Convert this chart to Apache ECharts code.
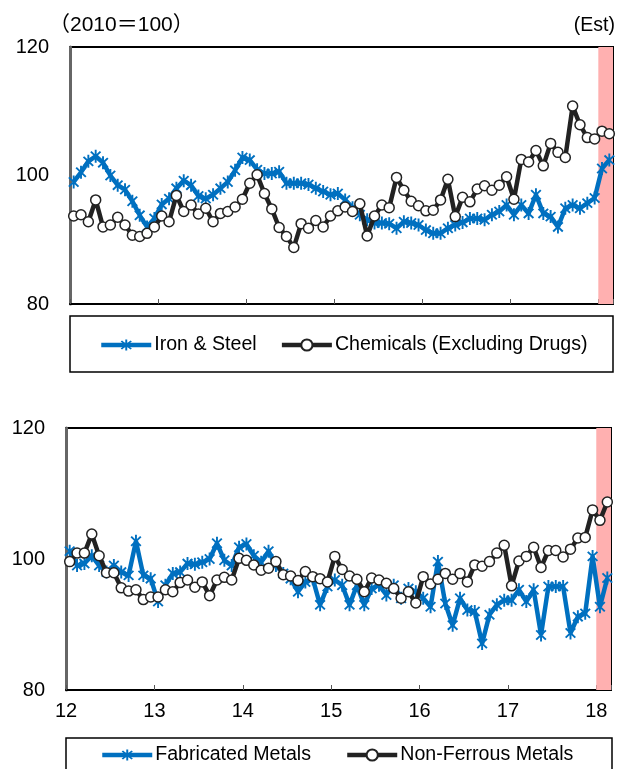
<!DOCTYPE html>
<html><head><meta charset="utf-8">
<script src="https://cdn.jsdelivr.net/npm/echarts@6/dist/echarts.min.js"></script>
<style>html,body{margin:0;padding:0;background:#fff}#c{width:622px;height:769px}</style>
</head><body><div id="c"></div>
<script>
// Monthly index (2010=100), Jan 2012 .. Feb 2018
const yearLabels = ['12','13','14','15','16','17','18'];
const totalMonths = 74;
const estStart = 72;   // Jan 2018 (estimate period)
const estEnd = 74;

const ironSteel = [
  99.0,100.5,102.2,103.0,102.0,100.0,98.5,97.8,96.0,93.8,92.0,93.3,
  95.5,96.4,98.0,99.2,98.5,96.8,96.4,97.0,98.0,99.0,100.8,102.8,
  102.4,100.9,100.3,100.3,100.6,98.8,98.8,98.8,98.6,98.0,97.5,97.0,
  97.2,96.2,95.0,93.9,93.1,92.6,92.6,92.5,91.8,92.8,92.6,92.3,
  91.5,91.0,91.0,91.8,92.3,92.7,93.3,93.3,93.1,93.9,94.4,95.4,
  93.9,95.4,94.1,97.0,94.1,93.6,92.0,94.9,95.4,94.9,95.7,96.5,
  101.1,102.4
];
const chemicals = [
  93.7,93.9,92.8,96.2,92.0,92.3,93.5,92.3,90.7,90.5,91.0,92.0,
  93.7,92.8,96.9,94.4,95.4,94.0,94.9,92.8,94.1,94.4,95.1,96.3,
  98.8,100.1,97.2,94.8,91.9,90.5,88.8,92.5,91.8,93.0,92.0,93.7,
  94.5,95.1,94.4,95.6,90.6,93.7,95.4,95.0,99.7,97.7,96.0,95.3,
  94.5,94.6,96.2,99.4,93.6,96.6,95.9,97.9,98.4,97.7,98.5,99.8,
  96.3,102.5,102.1,103.9,101.5,105.0,103.6,102.8,110.8,107.9,105.9,105.7,
  106.9,106.5
];
const fabricatedMetals = [
  101.2,99.0,99.3,100.5,99.0,98.0,99.0,98.0,97.5,102.7,97.5,97.0,
  93.5,96.0,97.8,98.0,99.3,99.2,99.5,100.0,102.4,99.8,99.0,101.8,
  102.3,100.5,99.5,101.2,99.0,97.8,97.0,95.0,96.5,97.0,93.0,95.8,
  96.8,96.0,93.0,96.0,93.0,95.5,96.0,94.5,96.0,94.0,95.5,95.0,
  94.0,92.7,99.6,93.2,89.9,94.0,92.2,92.0,87.1,91.5,93.0,93.7,
  93.7,95.3,93.5,95.3,88.4,95.8,95.8,95.8,88.7,91.2,91.7,100.4,
  92.7,97.1
];
const nonFerrousMetals = [
  99.6,100.9,100.9,103.8,100.5,97.9,97.9,95.6,95.1,95.3,93.8,94.2,
  94.2,95.3,95.0,96.4,96.8,95.7,96.5,94.4,96.8,97.2,96.8,100.1,
  99.8,99.1,98.3,98.6,99.6,97.6,97.4,96.7,98.1,97.3,97.0,96.5,
  100.4,98.4,97.4,96.9,95.0,97.1,96.8,96.3,95.5,94.0,95.0,93.3,
  97.3,96.2,96.9,97.8,96.9,97.8,96.5,99.1,98.9,99.6,100.9,102.1,
  95.9,99.7,100.4,101.8,98.7,101.3,101.3,100.3,101.5,103.2,103.3,107.5,
  105.9,108.7
];

const FONT = 'Liberation Sans, Arial, sans-serif';
const BLUE = '#0070C0';
const BLACK = '#222222';
const PINK = '#FFB0B0';
const STAR = 'path://M-0.14,-1L0.14,-1L0.14,1L-0.14,1Z' +
  'M-0.608,-0.806L0.806,0.608L0.608,0.806L-0.806,-0.608Z' +
  'M-0.608,0.806L-0.806,0.608L0.608,-0.806L0.806,-0.608Z';

const toPts = arr => arr.map((v, i) => [i + 0.5, v]);

function xAxisFor(gi, showLabels) {
  return {
    type: 'value', gridIndex: gi, min: 0, max: totalMonths, interval: 12,
    axisLine: { show: true, onZero: false, lineStyle: { color: '#000', width: 2 } },
    axisTick: { show: true, inside: true, length: 5, lineStyle: { color: '#555', width: 1 } },
    splitLine: { show: false },
    axisLabel: {
      show: showLabels, margin: 11, fontFamily: FONT, fontSize: 20, color: '#000',
      formatter: v => (v % 12 === 0 && v / 12 < yearLabels.length) ? yearLabels[v / 12] : ''
    }
  };
}
function yAxisFor(gi) {
  return {
    type: 'value', gridIndex: gi, min: 80, max: 120, interval: 20,
    axisLine: { show: true, lineStyle: { color: '#666', width: 3 } },
    axisTick: { show: false }, splitLine: { show: false },
    axisLabel: { margin: 21, fontFamily: FONT, fontSize: 20, color: '#000' }
  };
}
function estSeries(gi) {
  return {
    type: 'line', xAxisIndex: gi, yAxisIndex: gi, data: [], silent: true, z: 1,
    markArea: { silent: true, itemStyle: { color: PINK },
      data: [[{ xAxis: estStart }, { xAxis: estEnd }]] }
  };
}
function starSeries(name, data, gi) {
  return {
    name, type: 'line', xAxisIndex: gi, yAxisIndex: gi, data: toPts(data), z: 3,
    symbol: STAR, symbolSize: [11, 13], showAllSymbol: true,
    lineStyle: { color: BLUE, width: 4.5 }, itemStyle: { color: BLUE },
    emphasis: { disabled: true }, animation: false
  };
}
function circleSeries(name, data, gi) {
  return {
    name, type: 'line', xAxisIndex: gi, yAxisIndex: gi, data: toPts(data), z: 4,
    symbol: 'circle', symbolSize: 10, showAllSymbol: true,
    lineStyle: { color: BLACK, width: 4.5 },
    itemStyle: { color: '#fff', borderColor: BLACK, borderWidth: 1.5 },
    emphasis: { disabled: true }, animation: false
  };
}
const legendCommon = {
  itemWidth: 50, itemHeight: 14, padding: 0, selectedMode: false,
  lineStyle: { width: 4.5 },
  textStyle: { fontFamily: FONT, fontSize: 19.6, color: '#000', padding: [0, 0, 0, -2] }
};

const chart = echarts.init(document.getElementById('c'), null, { renderer: 'canvas' });
chart.setOption({
  animation: false,
  backgroundColor: '#fff',
  textStyle: { fontFamily: FONT },
  grid: [
    { left: 70, top: 47, width: 543, height: 257, show: true, borderColor: '#000', borderWidth: 2, backgroundColor: 'transparent' },
    { left: 66, top: 428, width: 545, height: 262, show: true, borderColor: '#000', borderWidth: 2, backgroundColor: 'transparent' }
  ],
  xAxis: [xAxisFor(0, false), xAxisFor(1, true)],
  yAxis: [yAxisFor(0), yAxisFor(1)],
  legend: [
    Object.assign({ data: ['Iron & Steel', 'Chemicals (Excluding Drugs)'], left: 99, top: 335, itemGap: 23 }, legendCommon),
    Object.assign({ data: ['Fabricated Metals', 'Non-Ferrous Metals'], left: 100, top: 745, itemGap: 34 }, legendCommon)
  ],
  graphic: [
    { type: 'rect', shape: { x: 70, y: 316, width: 543, height: 56 }, style: { fill: 'none', stroke: '#000', lineWidth: 1.5 }, z: -1 },
    { type: 'rect', shape: { x: 66, y: 738, width: 546, height: 60 }, style: { fill: 'none', stroke: '#000', lineWidth: 1.5 }, z: -1 },
    { type: 'text', left: 49, top: 15, style: { text: '（2010＝100）', font: '21px Liberation Sans, Noto Sans CJK JP, sans-serif', fill: '#000' } },
    { type: 'text', right: 7, top: 16, style: { text: '(Est)', font: '19.5px Liberation Sans, Arial, sans-serif', fill: '#000' } }
  ],
  series: [
    estSeries(0), estSeries(1),
    starSeries('Iron & Steel', ironSteel, 0),
    circleSeries('Chemicals (Excluding Drugs)', chemicals, 0),
    starSeries('Fabricated Metals', fabricatedMetals, 1),
    circleSeries('Non-Ferrous Metals', nonFerrousMetals, 1)
  ]
});
</script>
</body></html>
